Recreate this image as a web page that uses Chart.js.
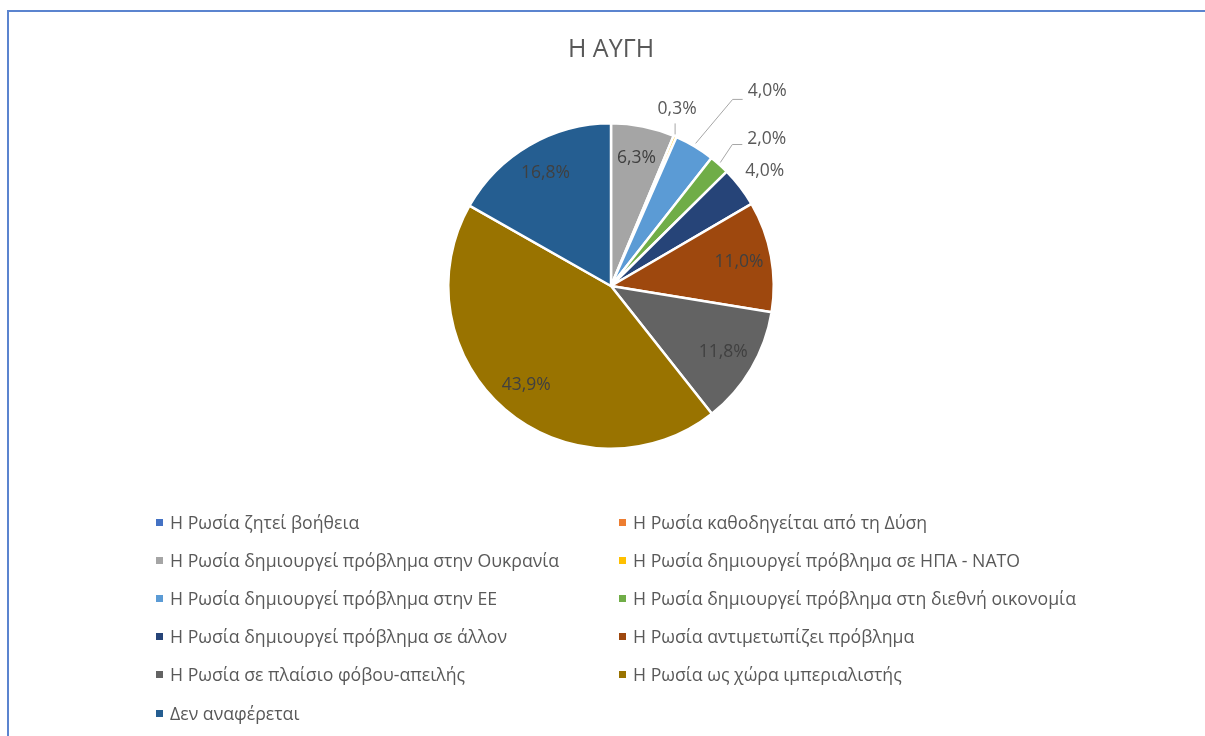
<!DOCTYPE html>
<html>
<head>
<meta charset="utf-8">
<script src="https://cdn.jsdelivr.net/npm/chart.js@4/dist/chart.umd.min.js"></script>
<style>
  html, body { margin: 0; padding: 0; background: #ffffff; }
  #wrap { position: relative; width: 1205px; height: 736px; overflow: hidden; font-family: "Open Sans", "Noto Sans", sans-serif; }
  #frame { position: absolute; left: 7px; top: 10px; width: 1300px; height: 800px; border: 2px solid #5B84CF; box-sizing: border-box; }
  #title { position: absolute; left: 411px; width: 400px; top: 29px; text-align: center; font-size: 25px; color: #595959; line-height: 36px; }
  #cv { position: absolute; left: 0; top: 0; }
  .leg { position: absolute; font-size: 17.7px; color: #595959; white-space: nowrap; line-height: 20px; }
  .leg i { position: absolute; left: -14px; top: 7px; width: 7px; height: 7px; }
</style>
</head>
<body>
<div id="wrap">
  <div id="frame"></div>
  <canvas id="cv" width="1205" height="736"></canvas>
  <div id="title"></div>
  <div id="legend"></div>
</div>
<script>
const chartTitle = "Η ΑΥΓΗ";
const categories = [
  "Η Ρωσία ζητεί βοήθεια",
  "Η Ρωσία καθοδηγείται από τη Δύση",
  "Η Ρωσία δημιουργεί πρόβλημα στην Ουκρανία",
  "Η Ρωσία δημιουργεί πρόβλημα σε ΗΠΑ - ΝΑΤΟ",
  "Η Ρωσία δημιουργεί πρόβλημα στην ΕΕ",
  "Η Ρωσία δημιουργεί πρόβλημα στη διεθνή οικονομία",
  "Η Ρωσία δημιουργεί πρόβλημα σε άλλον",
  "Η Ρωσία αντιμετωπίζει πρόβλημα",
  "Η Ρωσία σε πλαίσιο φόβου-απειλής",
  "Η Ρωσία ως χώρα ιμπεριαλιστής",
  "Δεν αναφέρεται"
];
const values = [0, 0, 6.3, 0.3, 4.0, 2.0, 4.0, 11.0, 11.8, 43.9, 16.8];
const colors = ["#4472C4", "#ED7D31", "#A5A5A5", "#FFC000", "#5B9BD5", "#70AD47", "#264478", "#9E480E", "#636363", "#997300", "#255E91"];

document.getElementById('title').textContent = chartTitle;

// HTML legend in two columns
const legend = document.getElementById('legend');
categories.forEach((c, i) => {
  const col = i % 2, row = Math.floor(i / 2);
  const d = document.createElement('div');
  d.className = 'leg';
  d.style.left = (col === 0 ? 170 : 633) + 'px';
  d.style.top = (512 + row * 38.1) + 'px';
  const m = document.createElement('i');
  m.style.background = colors[i];
  d.appendChild(m);
  d.appendChild(document.createTextNode(c));
  legend.appendChild(d);
});

function fmt(v) { return v.toFixed(1).replace('.', ',') + '%'; }

// label placement rules (inside at 0.8R, or outside with callout offsets from slice edge)
const outside = {
  3: { text: [2, -27], align: 'center', line: [[0, -2], [0, -13]] },
  4: { text: [53, -55], align: 'left', line: [[1, -3], [38, -47], [48, -47]] },
  5: { text: [28, -26], align: 'left', line: [[1, -2], [13, -20], [23, -20]] },
  6: { text: [5, -16], align: 'left', line: null }
};

const labelPlugin = {
  id: 'pieLabels',
  afterDatasetsDraw(chart) {
    const ctx = chart.ctx;
    const meta = chart.getDatasetMeta(0);
    ctx.save();
    ctx.font = '17.5px "Open Sans", "Noto Sans", sans-serif';
    ctx.textBaseline = 'middle';
    meta.data.forEach((arc, i) => {
      const v = values[i];
      if (!v) return;
      const p = arc.getProps(['x', 'y', 'startAngle', 'endAngle', 'outerRadius'], true);
      const mid = (p.startAngle + p.endAngle) / 2;
      const o = outside[i];
      if (!o) {
        const r = p.outerRadius * 0.8;
        ctx.fillStyle = '#404040';
        ctx.textAlign = 'center';
        ctx.fillText(fmt(v), p.x + Math.cos(mid) * r, p.y + Math.sin(mid) * r);
      } else {
        const ex = p.x + Math.cos(mid) * p.outerRadius;
        const ey = p.y + Math.sin(mid) * p.outerRadius;
        if (o.line) {
          ctx.strokeStyle = '#A6A6A6';
          ctx.lineWidth = 1;
          ctx.beginPath();
          o.line.forEach((pt, k) => {
            if (k === 0) ctx.moveTo(ex + pt[0], ey + pt[1]);
            else ctx.lineTo(ex + pt[0], ey + pt[1]);
          });
          ctx.stroke();
        }
        ctx.fillStyle = '#595959';
        ctx.textAlign = o.align;
        ctx.fillText(fmt(v), ex + o.text[0], ey + o.text[1]);
      }
    });
    ctx.restore();
  }
};

new Chart(document.getElementById('cv'), {
  type: 'pie',
  data: {
    labels: categories,
    datasets: [{
      data: values,
      backgroundColor: colors,
      borderColor: '#ffffff',
      borderWidth: 2.5
    }]
  },
  options: {
    responsive: false,
    animation: false,
    layout: { padding: { left: 447, right: 430, top: 122, bottom: 286 } },
    plugins: {
      legend: { display: false },
      tooltip: { enabled: false },
      title: { display: false }
    }
  },
  plugins: [labelPlugin]
});
</script>
</body>
</html>
